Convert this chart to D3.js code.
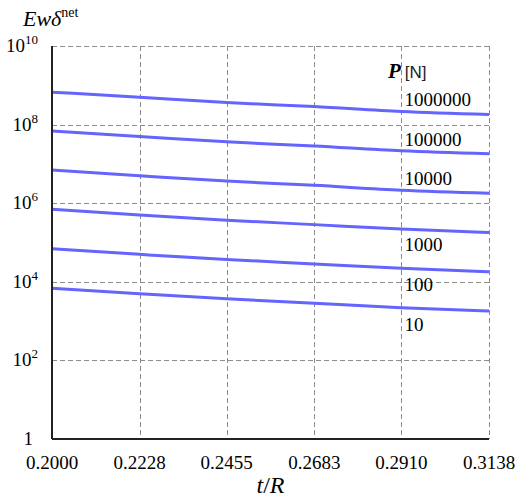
<!DOCTYPE html>
<html>
<head>
<meta charset="utf-8">
<script src="https://cdn.jsdelivr.net/npm/d3@7"></script>
</head>
<body style="margin:0">
<script>
// x positions (t/R) and tick labels
const xTicks = [0.2000, 0.2228, 0.2455, 0.2683, 0.2910, 0.3138];
const xTickLabels = ["0.2000", "0.2228", "0.2455", "0.2683", "0.2910", "0.3138"];
const yTickExps = [0, 2, 4, 6, 8, 10];

// load levels P [N]
const loads = ["10", "100", "1000", "10000", "100000", "1000000"];
const loadLabelY = [331, 291, 251, 185, 146, 106];

// E w delta_net at each x tick
const series10      = [6.9e3, 5.0e3, 3.7e3, 2.85e3, 2.2e3, 1.8e3];
const series100     = [6.9e4, 5.0e4, 3.7e4, 2.85e4, 2.2e4, 1.8e4];
const series1000    = [7.0e5, 5.0e5, 3.7e5, 2.85e5, 2.2e5, 1.8e5];
const series10000   = [7.0e6, 5.0e6, 3.65e6, 2.85e6, 2.15e6, 1.8e6];
const series100000  = [6.9e7, 5.0e7, 3.65e7, 2.85e7, 2.15e7, 1.8e7];
const series1000000 = [6.7e8, 4.95e8, 3.63e8, 2.87e8, 2.14e8, 1.8e8];
const allSeries = [series10, series100, series1000, series10000, series100000, series1000000];

const width = 518, height = 504;
const margin = { top: 46, right: 29, bottom: 65, left: 52 };

const svg = d3.select("body").append("svg")
    .attr("width", width)
    .attr("height", height);

const x = d3.scaleLinear()
    .domain([xTicks[0], xTicks[xTicks.length - 1]])
    .range([margin.left, width - margin.right]);

const y = d3.scaleLog()
    .domain([1, 1e10])
    .range([height - margin.bottom, margin.top]);

// grid
const grid = svg.append("g")
    .attr("stroke", "#8c8c8c")
    .attr("stroke-width", 1)
    .attr("stroke-dasharray", "5,3");

grid.selectAll("line.h")
    .data(yTickExps.filter(e => e > 0))
    .enter().append("line")
    .attr("class", "h")
    .attr("x1", x.range()[0])
    .attr("x2", x.range()[1])
    .attr("y1", e => Math.round(y(Math.pow(10, e))) + 0.5)
    .attr("y2", e => Math.round(y(Math.pow(10, e))) + 0.5);

grid.selectAll("line.v")
    .data(xTicks.slice(1))
    .enter().append("line")
    .attr("class", "v")
    .attr("x1", d => Math.round(x(d)) + 0.5)
    .attr("x2", d => Math.round(x(d)) + 0.5)
    .attr("y1", y.range()[1])
    .attr("y2", y.range()[0]);

// data lines
const line = d3.line()
    .x((d, i) => x(xTicks[i]))
    .y(d => y(d))
    .curve(d3.curveMonotoneX);

svg.append("g").selectAll("path")
    .data(allSeries)
    .enter().append("path")
    .attr("d", line)
    .attr("fill", "none")
    .attr("stroke", "#6464ff")
    .attr("stroke-width", 3);

// axes lines
svg.append("line")
    .attr("x1", x.range()[0]).attr("x2", x.range()[0])
    .attr("y1", y.range()[1]).attr("y2", y.range()[0])
    .attr("stroke", "#222").attr("stroke-width", 2);
svg.append("line")
    .attr("x1", x.range()[0]).attr("x2", x.range()[1])
    .attr("y1", y.range()[0]).attr("y2", y.range()[0])
    .attr("stroke", "#222").attr("stroke-width", 2);

// x tick labels
svg.append("g").selectAll("text")
    .data(xTicks)
    .enter().append("text")
    .style("font-family", "Times New Roman")
    .style("font-size", "19px")
    .attr("x", d => x(d))
    .attr("y", 469)
    .attr("text-anchor", "middle")
    .text((d, i) => xTickLabels[i]);

// y tick labels (10^n)
svg.append("g").selectAll("text")
    .data(yTickExps)
    .enter().append("text")
    .style("font-family", "Times New Roman")
    .style("font-size", "19px")
    .attr("x", e => e === 0 ? 33 : 38)
    .attr("y", e => y(Math.pow(10, e)) + 6)
    .attr("text-anchor", "end")
    .each(function(e) {
        const t = d3.select(this);
        if (e === 0) {
            t.text("1");
        } else {
            t.append("tspan").text("10");
            t.append("tspan").attr("dy", -8).style("font-size", "13px").text(e);
        }
    });

// series labels
svg.append("g").selectAll("text")
    .data(loads)
    .enter().append("text")
    .style("font-family", "Times New Roman")
    .style("font-size", "19px")
    .attr("x", x(xTicks[4]) + 3)
    .attr("y", (d, i) => loadLabelY[i])
    .text(d => d);

// legend title P [N]
const ptitle = svg.append("text")
    .style("font-family", "Times New Roman")
    .style("font-size", "21px")
    .attr("x", 388)
    .attr("y", 78);
ptitle.append("tspan")
    .style("font-style", "italic").style("font-weight", "bold")
    .text("P");
ptitle.append("tspan")
    .attr("dx", 4)
    .style("font-family", "Liberation Sans")
    .style("font-size", "17px")
    .style("fill", "#222")
    .text("[N]");

// y axis title
const ytitle = svg.append("text")
    .style("font-family", "Times New Roman")
    .style("font-size", "22px")
    .attr("x", 23)
    .attr("y", 26);
ytitle.append("tspan").style("font-style", "italic").text("Ewδ");
ytitle.append("tspan").attr("dy", -9).style("font-size", "14px").text("net");

// x axis title
const xtitle = svg.append("text")
    .style("font-family", "Times New Roman")
    .style("font-size", "24px")
    .attr("x", x((xTicks[2] + xTicks[3]) / 2))
    .attr("y", 493)
    .attr("text-anchor", "middle");
xtitle.append("tspan").style("font-style", "italic").text("t");
xtitle.append("tspan").text("/");
xtitle.append("tspan").style("font-style", "italic").text("R");
</script>
</body>
</html>
